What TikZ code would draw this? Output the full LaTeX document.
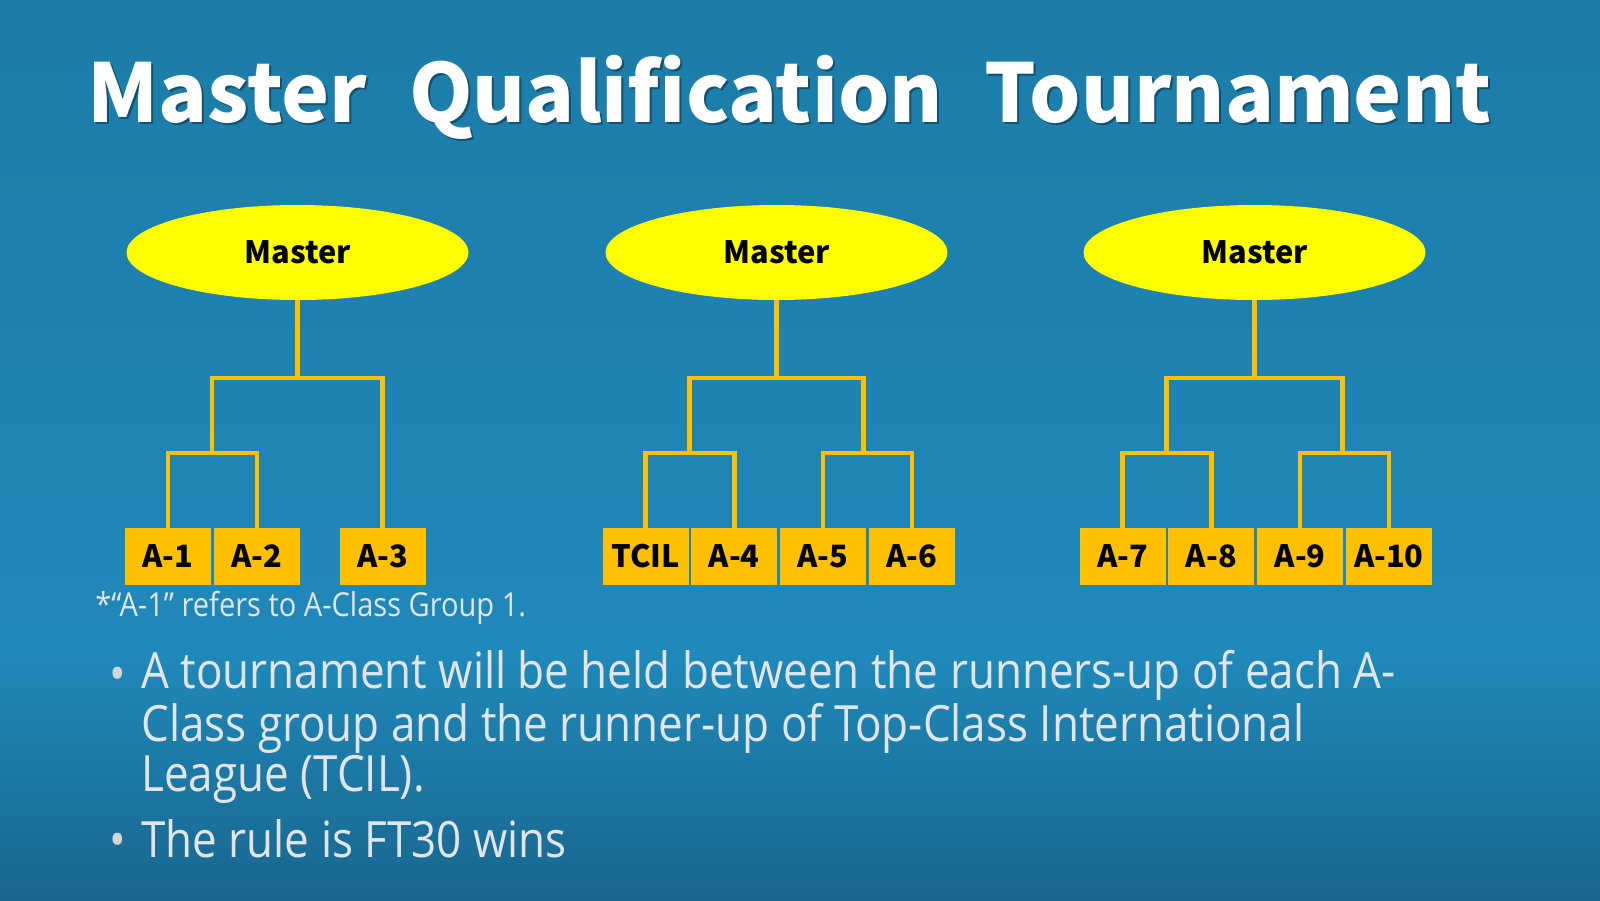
\documentclass[tikz,border=0pt]{standalone}
\usepackage{fontspec}
\setmainfont{Open Sans}[FakeStretch=0.88]
\newfontfamily\headfont{Noto Sans CJK JP}
\usetikzlibrary{positioning,shapes.geometric}
\definecolor{bgtop}{HTML}{1C7CA8}
\definecolor{bgmid}{HTML}{1F89BA}
\definecolor{bgbot}{HTML}{18668E}
\definecolor{mastery}{HTML}{FFFF00}
\definecolor{groupy}{HTML}{FFC000}
\definecolor{textgray}{HTML}{E2E5E7}
\tikzset{
  master/.style={ellipse, fill=mastery, minimum width=171pt, minimum height=47.5pt, inner sep=0pt, font=\headfont\bfseries\fontsize{15.4}{17}\selectfont},
  group/.style={rectangle, fill=groupy, minimum width=43pt, minimum height=28.5pt, inner sep=0pt, font=\headfont\bfseries\fontsize{15.4}{17}\selectfont},
  link/.style={draw=groupy, line width=2.2pt},
  body/.style={text=textgray, font=\fontsize{25}{25}\selectfont}
}
\begin{document}
\begin{tikzpicture}[x=0.5pt, y=-0.5pt, node distance=1pt]
\useasboundingbox (0,0) rectangle (1600,900);
\fill[top color=bgtop, bottom color=bgmid] (0,0) rectangle (1600,655);
\fill[top color=bgmid, bottom color=bgbot] (0,654) rectangle (1600,900);

\node (shadow) at (791.5,124.5) [anchor=base, text=black, opacity=.35, font=\headfont\bfseries\fontsize{40.5}{48}\selectfont] {Master\hspace{0.52em}Qualification\hspace{0.52em}Tournament};
\node (title) at (789.5,122.5) [anchor=base, text=white, font=\headfont\bfseries\fontsize{40.5}{48}\selectfont] {Master\hspace{0.52em}Qualification\hspace{0.52em}Tournament};

\node (M1) at (297.5,252.5) [master] {Master};
\node (M2) at (776.5,252.5) [master] {Master};
\node (M3) at (1254.5,252.5) [master] {Master};

\node (A1) at (168,556.5) [group] {A-1};
\node (A2) [group, right=of A1] {A-2};
\node (A3) at (382.5,556.5) [group] {A-3};

\node (TCIL) at (645.5,556.5) [group] {TCIL};
\node (A4) [group, right=of TCIL] {A-4};
\node (A5) [group, right=of A4] {A-5};
\node (A6) [group, right=of A5] {A-6};

\node (A7) at (1122.5,556.5) [group] {A-7};
\node (A8) [group, right=of A7] {A-8};
\node (A9) [group, right=of A8] {A-9};
\node (A10) [group, right=of A9] {A-10};

\coordinate (J1) at (212,453);
\coordinate (K1) at (297.5,378);
\coordinate (J2) at (689.5,453);
\coordinate (J3) at (863.5,453);
\coordinate (K2) at (776.5,378);
\coordinate (J4) at (1166.5,453);
\coordinate (J5) at (1342.5,453);
\coordinate (K3) at (1254.5,378);

\draw[link] (A1) |- (J1) -| (A2);
\draw[link] (J1) |- (K1) -| (A3);
\draw[link] (K1) -- (M1);

\draw[link] (TCIL) |- (J2) -| (A4);
\draw[link] (A5) |- (J3) -| (A6);
\draw[link] (J2) |- (K2) -| (J3);
\draw[link] (K2) -- (M2);

\draw[link] (A7) |- (J4) -| (A8);
\draw[link] (A9) |- (J5) -| (A10);
\draw[link] (J4) |- (K3) -| (J5);
\draw[link] (K3) -- (M3);

\node (note) at (95,616) [anchor=base west, inner sep=0pt, text=textgray, font=\fontsize{16.5}{18}\selectfont] {*“A-1” refers to A-Class Group 1.};

\node (dot1) at (118,691) [anchor=base, body, text=textgray!85!gray] {•};
\node (item1) at (141,791) [anchor=base west, body, align=left, inner sep=0pt] {A tournament will be held between the runners-up of each A-\\Class group and the runner-up of Top-Class International\\League (TCIL).};
\node (dot2) at (118,857) [anchor=base, body, text=textgray!85!gray] {•};
\node (item2) at (141,857) [anchor=base west, body, inner sep=0pt] {The rule is FT30 wins};
\end{tikzpicture}
\end{document}
